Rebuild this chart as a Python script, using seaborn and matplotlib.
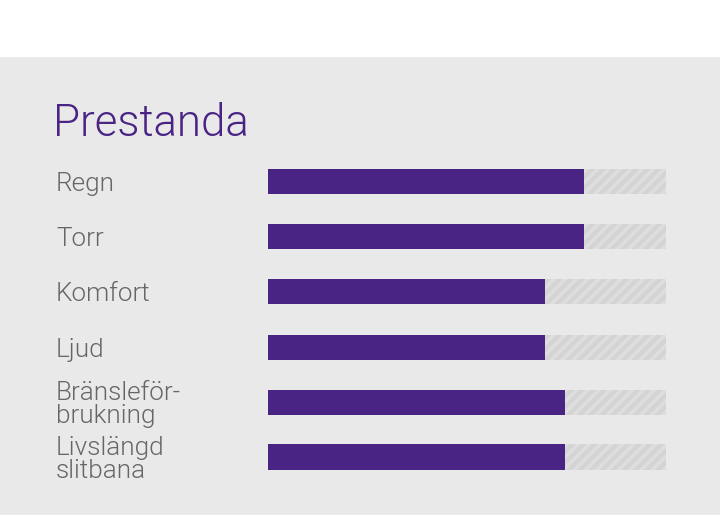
import matplotlib
matplotlib.use("Agg")
import matplotlib.pyplot as plt
import seaborn as sns
import pandas as pd
from matplotlib.patches import Rectangle

categories = ["Regn", "Torr", "Komfort", "Ljud", "Bränsleför-\nbrukning", "Livslängd\nslitbana"]
values = [7.95, 7.95, 6.95, 6.95, 7.45, 7.45]
max_value = 10
title = "Prestanda"

PURPLE = "#4a2484"
BG = "#e9e9e9"
TRACK = "#d4d4d4"
LABEL = "#666666"

sns.set_theme(style="white")
plt.rcParams["font.family"] = ["Roboto", "DejaVu Sans"]
plt.rcParams["hatch.linewidth"] = 2.5

df = pd.DataFrame({"cat": categories, "value": values, "track": [max_value] * len(categories)})

W, H = 720, 515
fig = plt.figure(figsize=(W / 100, H / 100), dpi=100, facecolor="white")
fig.patches.append(Rectangle((0, 0), 1, 1 - 57 / H, transform=fig.transFigure,
                             facecolor=BG, edgecolor="none", zorder=-10))

ax = fig.add_axes([268 / W, 1 - 484.5 / H, 398 / W, 330 / H])
ax.set_facecolor("none")
ax.set_zorder(5)

sns.barplot(data=df, y="cat", x="track", orient="h", color=TRACK, width=25 / 55,
            ax=ax, saturation=1, hatch="///", edgecolor="#dedede", linewidth=0)
sns.barplot(data=df, y="cat", x="value", orient="h", color=PURPLE, width=25 / 55,
            ax=ax, saturation=1, linewidth=0)

ax.set_xlim(0, max_value)
ax.set_ylim(len(categories) - 0.5, -0.5)
ax.set_xlabel("")
ax.set_ylabel("")
ax.set_xticks([])
for s in ax.spines.values():
    s.set_visible(False)
ax.tick_params(axis="y", length=0, pad=212 * 0.72)
for lab in ax.get_yticklabels():
    lab.set_horizontalalignment("left")
    lab.set_fontsize(18.8)
    lab.set_color(LABEL)
    lab.set_fontweight(300)
    lab.set_linespacing(0.95)

fig.text(53 / W, 1 - 136 / H, title, fontsize=31.5, color=PURPLE, fontweight=300,
         va="baseline", ha="left")

fig.savefig("out.png", dpi=100, facecolor="white")
